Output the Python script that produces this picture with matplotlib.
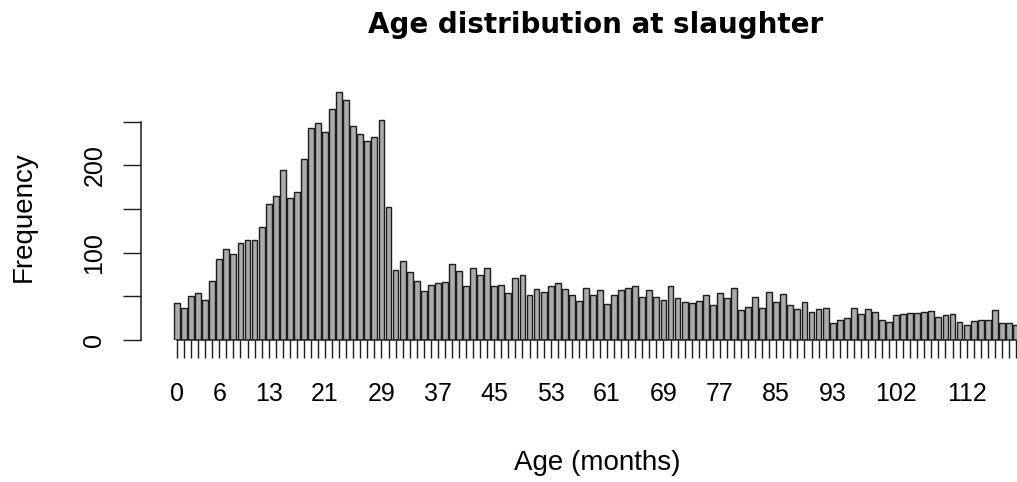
import matplotlib
matplotlib.use("Agg")
import matplotlib.pyplot as plt
import numpy as np

ages = list(range(0, 120))
counts = [42, 37, 50, 54, 46, 68, 93, 104, 98, 111,
          115, 114, 129, 156, 165, 195, 163, 170, 207, 243,
          249, 238, 265, 284, 275, 245, 236, 228, 233, 252,
          152, 80, 90, 78, 67, 56, 63, 65, 66, 87,
          79, 62, 83, 74, 83, 62, 63, 54, 71, 74,
          51, 58, 55, 62, 65, 58, 51, 45, 60, 52,
          57, 41, 51, 57, 59, 62, 49, 57, 49, 46,
          62, 48, 44, 42, 45, 51, 40, 54, 48, 59,
          34, 38, 49, 37, 55, 44, 53, 40, 36, 43,
          32, 35, 37, 19, 23, 25, 37, 30, 35, 32,
          23, 21, 29, 30, 31, 31, 32, 33, 26, 29,
          30, 21, 17, 22, 23, 23, 34, 20, 19, 17]
shown_labels = [0, 6, 13, 21, 29, 37, 45, 53, 61, 69, 77, 85, 93, 102, 112]
y_ticks = [0, 50, 100, 150, 200, 250]
y_labels = [0, 100, 200]

W, H = 1017, 482
fig = plt.figure(figsize=(W / 100, H / 100), dpi=100)

# axes pixel geometry
left_px, right_px = 141, 1017
bottom_px, top_px = 340, 80
ax = fig.add_axes([left_px / W, 1 - bottom_px / H,
                   (right_px - left_px) / W, (bottom_px - top_px) / H])

centers = 0.7 + 1.2 * np.arange(len(ages))
ax.bar(centers, counts, width=1.0, color="#ababab", edgecolor="#1c1c1c",
       linewidth=1.0, zorder=2)

ppu = 7.05 / 1.2
ax.set_xlim(0.7 - (177 - left_px) / ppu, 0.7 + (right_px - 177) / ppu)
ypu = (340 - 121.7) / 250
ax.set_ylim(0, (bottom_px - top_px) / ypu)

for s in ["top", "right"]:
    ax.spines[s].set_visible(False)
ax.spines["left"].set_bounds(0, 250)
ax.spines["bottom"].set_bounds(centers[0], centers[-1])
for s in ["left", "bottom"]:
    ax.spines[s].set_linewidth(1.1)
    ax.spines[s].set_color("#1c1c1c")

ax.set_xticks(centers)
ax.set_xticklabels([str(a) if a in shown_labels else "" for a in ages],
                   fontfamily="Liberation Sans", fontsize=18)
ax.set_yticks(y_ticks)
ax.set_yticklabels([str(v) if v in y_labels else "" for v in y_ticks],
                   fontfamily="Liberation Sans", fontsize=18,
                   rotation=90, va="center")
ax.tick_params(axis="x", length=13, width=1.0, color="#1c1c1c", pad=17)
ax.tick_params(axis="y", length=13, width=1.0, color="#1c1c1c", pad=12)

fig.text(596 / W, 1 - 33 / H, "Age distribution at slaughter",
         ha="center", va="baseline", fontfamily="DejaVu Sans",
         fontweight="bold", fontsize=20)
fig.text(597 / W, 1 - 470 / H, "Age (months)", ha="center", va="baseline",
         fontfamily="Liberation Sans", fontsize=20)
fig.text(24 / W, 1 - 216.5 / H, "Frequency", ha="center", va="center",
         rotation=90, fontfamily="Liberation Sans", fontsize=20)

fig.savefig("out.png", dpi=100)
